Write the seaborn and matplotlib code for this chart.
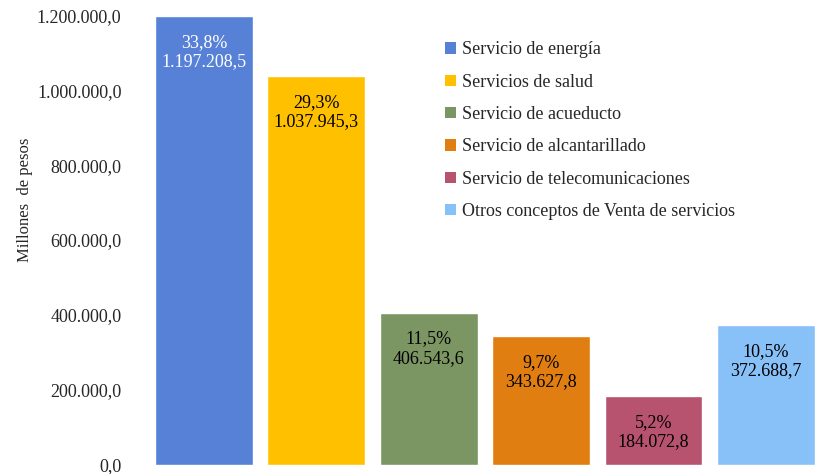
import numpy as np
import pandas as pd
import seaborn as sns
import matplotlib.pyplot as plt
from matplotlib.ticker import FuncFormatter
from matplotlib.patches import Patch

# %% data

categorias = ["Servicio de energía", "Servicios de salud", "Servicio de acueducto",
              "Servicio de alcantarillado", "Servicio de telecomunicaciones",
              "Otros conceptos de Venta de servicios"]
valores = [1197208.5, 1037945.3, 406543.6, 343627.8, 184072.8, 372688.7]
porcentajes = ["33,8%", "29,3%", "11,5%", "9,7%", "5,2%", "10,5%"]
colores = ["#5781D7", "#FFC000", "#7B9663", "#E07E12", "#B7536F", "#88C0F8"]
yticks = [0, 200000, 400000, 600000, 800000, 1000000, 1200000]

df = pd.DataFrame({"categoria": categorias, "valor": valores})

# %% formato de numeros en espanol

def fmt_es(v, pos=None):
    s = f"{v:,.1f}"
    return s.replace(",", "X").replace(".", ",").replace("X", ".")

# %% grafica

sns.set_style("white")
plt.rcParams["font.family"] = ["Liberation Serif", "DejaVu Serif"]

fig = plt.figure(figsize=(8.17, 4.74), dpi=100)
ax = fig.add_axes([0.17, 0.019, 0.83, 0.949])

sns.barplot(data=df, x="categoria", y="valor", hue="categoria",
            palette=colores, dodge=False, width=0.87, legend=False,
            saturation=1, ax=ax)

ax.set_xlim(-0.578, 5.454)
ax.set_ylim(0, 1200000)
ax.set_yticks(yticks)
ax.yaxis.set_major_formatter(FuncFormatter(fmt_es))
ax.tick_params(axis="y", labelsize=13, length=0, pad=12.5)
ax.set_xticks([])
ax.set_xlabel("")
ax.set_ylabel("Millones  de pesos", fontsize=12)
ax.yaxis.set_label_coords(-0.156, 0.59)
sns.despine(ax=ax, left=True, bottom=True)

for i, (v, p) in enumerate(zip(valores, porcentajes)):
    color_txt = "white" if i == 0 else "black"
    ax.annotate(p + "\n" + fmt_es(v), xy=(i, v), xytext=(0, -36),
                textcoords="offset pixels", ha="center", va="center",
                fontsize=13, color=color_txt, linespacing=1.2)

handles = [Patch(facecolor=c, edgecolor="none") for c in colores]
ax.legend(handles, categorias, loc="upper left", bbox_to_anchor=(0.525, 0.947),
          bbox_transform=fig.transFigure, frameon=False, fontsize=13,
          handlelength=0.6, handleheight=0.6, handletextpad=0.35,
          labelspacing=0.85)

fig.savefig("out.png", dpi=100)
